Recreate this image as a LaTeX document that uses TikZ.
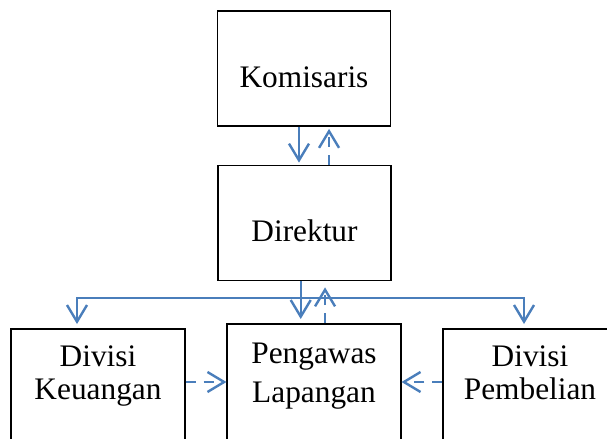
\documentclass[tikz,border=0pt]{standalone}
\usepackage{fontspec}
\setmainfont{Liberation Serif}
\usetikzlibrary{arrows.meta}
\definecolor{linkblue}{RGB}{74,126,187}

\begin{document}
\begin{tikzpicture}[x=0.75pt, y=-0.75pt,
  box/.style={draw, line width=1.3pt, rectangle, inner sep=0pt, align=center, font=\fontsize{23.5}{29}\selectfont},
  topbox/.style={box, minimum width=129.75pt, minimum height=86.25pt, text height=28pt, text depth=0pt},
  lowbox/.style={box, anchor=north, minimum width=130pt, text height=53.25pt, text depth=110pt},
  barb/.style={-{Straight Barb[length=12.5pt,width=15pt]}},
  solidlink/.style={draw=linkblue, line width=1.8pt, barb},
  dashlink/.style={solidlink, dash pattern=on 7.5pt off 6pt}]
\useasboundingbox (0,0) rectangle (607,439);
\clip (0,0) rectangle (607,439);
% boxes
\node[topbox] (kom) at (304,68.5) {Komisaris};
\node[topbox] (dir) at (304.5,223) {Direktur};
\node[lowbox, font=\fontsize{23.5}{24.75}\selectfont] (keu) at (98,328) {Divisi\\Keuangan};
\node[lowbox, text height=59.25pt, font=\fontsize{23.5}{29.25}\selectfont] (pen) at (314,323) {Pengawas\\Lapangan};
\node[lowbox, font=\fontsize{23.5}{24.75}\selectfont] (pem) at (530,328) {Divisi\\Pembelian};
% bus line
\coordinate (bus) at (304.5,298);
\coordinate (keuin) at ([xshift=-15.75pt]keu.north);
\coordinate (pemin) at ([xshift=-4.5pt]pem.north);
\draw[solidlink, {Straight Barb[length=12.5pt,width=15pt]}-{Straight Barb[length=12.5pt,width=15pt]}, shorten <=3pt, shorten >=3pt] (keuin) -- (keuin |- bus) -- (pemin |- bus) -- (pemin);
% vertical links
\draw[solidlink, shorten >=1.5pt] ([xshift=-3.75pt]kom.south) -- ([xshift=-3.75pt]kom.south |- dir.north);
\draw[dashlink, shorten >=1.5pt] ([xshift=18.4pt]dir.north) -- ([xshift=18.4pt]dir.north |- kom.south);
\draw[solidlink, shorten >=3pt] ([xshift=-2.85pt]dir.south) -- ([xshift=-2.85pt]dir.south |- pen.north);
\draw[dashlink, shorten >=4.5pt] ([xshift=15.4pt]dir.south |- pen.north) -- ([xshift=15.4pt]dir.south);
% side links
\draw[dashlink] ([yshift=-40.5pt]keu.north east) -- ([yshift=-40.5pt]keu.north east -| pen.west);
\draw[dashlink] ([yshift=-40.5pt]pem.north west) -- ([yshift=-40.5pt]pem.north west -| pen.east);
\end{tikzpicture}
\end{document}
